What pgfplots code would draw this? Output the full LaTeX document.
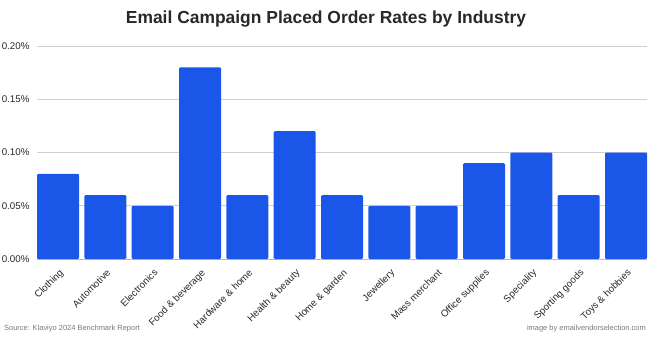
\documentclass[border=0pt]{standalone}
\usepackage{pgfplots}
\pgfplotsset{compat=1.18}
\usepackage{fontspec}
\setmainfont{Liberation Sans}
\definecolor{barblue}{RGB}{26,86,232}
\definecolor{gridgray}{RGB}{208,208,208}
\definecolor{axisgray}{RGB}{185,185,185}
\definecolor{txt}{RGB}{40,40,40}
\definecolor{srcgray}{RGB}{120,120,120}
\begin{document}
\begin{tikzpicture}[x=1bp,y=1bp]
\path[use as bounding box] (0,0) rectangle (650,337);
\begin{axis}[
  at={(37bp,78bp)}, anchor=south west,
  scale only axis, width=610bp, height=213bp,
  xmin=-0.444, xmax=12.444, ymin=0, ymax=0.2,
  axis x line*=bottom, axis y line*=left,
  x axis line style={axisgray, line width=0.8pt, -},
  y axis line style={draw=none},
  ymajorgrids, grid style={gridgray, line width=0.8pt},
  ytick={0,0.05,0.1,0.15,0.2},
  yticklabels={0.00\%,0.05\%,0.10\%,0.15\%,0.20\%},
  xtick={0,...,12},
  xticklabels={Clothing,Automotive,Electronics,Food \& beverage,Hardware \& home,Health \& beauty,Home \& garden,Jewellery,Mass merchant,Office supplies,Speciality,Sporting goods,Toys \& hobbies},
  x tick label style={rotate=45, anchor=north east, font=\fontsize{9.8}{11}\selectfont, text=txt, inner sep=1pt, xshift=-5bp, yshift=-6bp},
  y tick label style={font=\fontsize{9.8}{11}\selectfont, text=txt},
  yticklabel style={anchor=east, xshift=-4bp},
  major tick length=0pt,
  ytick style={draw=none}, xtick style={draw=none},
  /pgf/number format/assume math mode=true,
  clip=false,
]
\addplot[ybar, bar width=42bp, fill=barblue, draw=none, rounded corners=1.2bp] coordinates {
(0,0.08) (1,0.06) (2,0.05) (3,0.18) (4,0.06) (5,0.12) (6,0.06) (7,0.05) (8,0.05) (9,0.09) (10,0.10) (11,0.06) (12,0.10)};
\end{axis}
\node[anchor=north, font=\fontsize{17.5}{20}\selectfont\bfseries, text=txt] at (326,330) {Email Campaign Placed Order Rates by Industry};
\node[anchor=south west, font=\fontsize{7.5}{9}\selectfont, text=srcgray, inner sep=0pt] at (4,5) {Source: Klaviyo 2024 Benchmark Report};
\node[anchor=south east, font=\fontsize{7.5}{9}\selectfont, text=srcgray, inner sep=0pt] at (646,5) {image by emailvendorselection.com};
\end{tikzpicture}
\end{document}
